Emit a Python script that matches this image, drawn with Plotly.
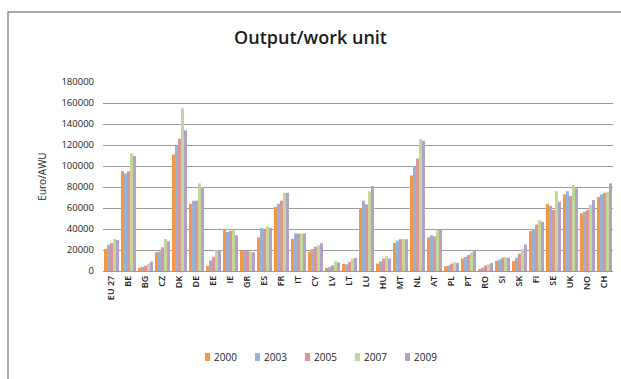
import plotly.graph_objects as go

countries = ["EU 27", "BE", "BG", "CZ", "DK", "DE", "EE", "IE", "GR", "ES",
             "FR", "IT", "CY", "LV", "LT", "LU", "HU", "MT", "NL", "AT",
             "PL", "PT", "RO", "SI", "SK", "FI", "SE", "UK", "NO", "CH"]

y2000 = [21000, 95000, 3000, 18000, 111000, 64000, 5000, 39500, 19500, 32000,
         61000, 30500, 18500, 3000, 6700, 60000, 7000, 26800, 91000, 32000,
         4500, 12000, 1300, 9600, 9400, 38000, 64000, 73000, 55000, 70500]
y2003 = [25000, 93000, 4000, 18500, 119000, 67000, 10000, 37300, 19000, 41000,
         64000, 35700, 21000, 3800, 6400, 67000, 9200, 29000, 100000, 34000,
         5100, 13400, 3200, 10800, 12700, 40000, 62000, 76000, 56500, 73000]
y2005 = [26500, 95000, 5000, 22500, 126000, 67000, 13500, 38200, 19000, 39000,
         67000, 35700, 23000, 5400, 8600, 63500, 11800, 30300, 107000, 33000,
         7000, 15300, 5100, 12700, 16600, 44300, 58000, 71300, 58000, 74500]
y2007 = [30500, 112000, 7000, 30500, 155000, 83500, 19800, 39500, 18500, 42500,
         74500, 35700, 24500, 9200, 11800, 76000, 14000, 30300, 125700, 39500,
         8300, 17800, 6400, 13400, 20800, 48400, 76000, 82000, 63000, 75500]
y2009 = [29500, 109500, 9000, 28300, 134000, 80000, 20000, 34000, 17800, 41000,
         74500, 35700, 26500, 8300, 12400, 81000, 12100, 30300, 124000, 39500,
         7600, 19700, 7600, 12700, 25300, 46800, 66000, 78700, 67500, 83500]

years = ["2000", "2003", "2005", "2007", "2009"]
colors = ["#F79646", "#95B3D7", "#DA9694", "#C3D69B", "#B3A2C7"]
series = [y2000, y2003, y2005, y2007, y2009]

fig = go.Figure()
for name, vals, col in zip(years, series, colors):
    fig.add_trace(go.Bar(x=countries, y=vals, name=name, showlegend=False,
                         marker=dict(color=col, line=dict(width=0))))

# plot area geometry (px)
L, R, T, B = 103, 8, 82, 108
W, H = 621, 379
pw, ph = W - L - R, H - T - B

def px_x(px):
    return (px - L) / pw

def px_y(py):
    return (H - B - py) / ph

# compact legend: small colour square followed by the year
shapes = [dict(type="rect", xref="paper", yref="paper",
               x0=px_x(8), x1=px_x(640), y0=px_y(400), y1=px_y(12),
               line=dict(color="#8c8c8c", width=1.5), layer="below")]
annotations = []
leg_x0, leg_step, leg_y = 205, 50, 357
for i, (name, col) in enumerate(zip(years, colors)):
    sx = leg_x0 + i * leg_step
    shapes.append(dict(type="rect", xref="paper", yref="paper",
                       x0=px_x(sx), x1=px_x(sx + 5),
                       y0=px_y(leg_y + 4), y1=px_y(leg_y - 4),
                       fillcolor=col, line=dict(width=0)))
    annotations.append(dict(text=name, xref="paper", yref="paper",
                            x=px_x(sx + 7), y=px_y(leg_y),
                            xanchor="left", yanchor="middle", showarrow=False,
                            font=dict(size=10, color="#222",
                                      family="Open Sans, sans-serif")))

fig.update_layout(
    width=W, height=H,
    margin=dict(l=L, r=R, t=T, b=B),
    paper_bgcolor="white", plot_bgcolor="white",
    barmode="group", bargap=0.12, bargroupgap=0,
    font=dict(family="Open Sans, Arial, sans-serif", color="#333"),
    title=dict(text="Output/work unit", x=0.5, xanchor="center",
               y=1 - 38 / H, yanchor="middle",
               font=dict(family="Open Sans, sans-serif", weight=600,
                         size=18, color="#1a1a1a")),
    xaxis=dict(tickangle=-90,
               tickfont=dict(size=9, color="#222", weight=600),
               showgrid=False, showline=False, ticks="", ticklabelstandoff=2),
    yaxis=dict(range=[0, 180000], dtick=20000, tickformat="d",
               showgrid=True, gridcolor="#9a9a9a", gridwidth=1,
               zeroline=True, zerolinecolor="#9a9a9a", zerolinewidth=1,
               showline=False, ticks="", ticklabelstandoff=8,
               tickfont=dict(size=9.5, color="#222"),
               title=dict(text="Euro/AWU", standoff=12,
                          font=dict(size=10, color="#222"))),
    showlegend=False,
    shapes=shapes,
    annotations=annotations,
)

fig.write_html("out.html")
